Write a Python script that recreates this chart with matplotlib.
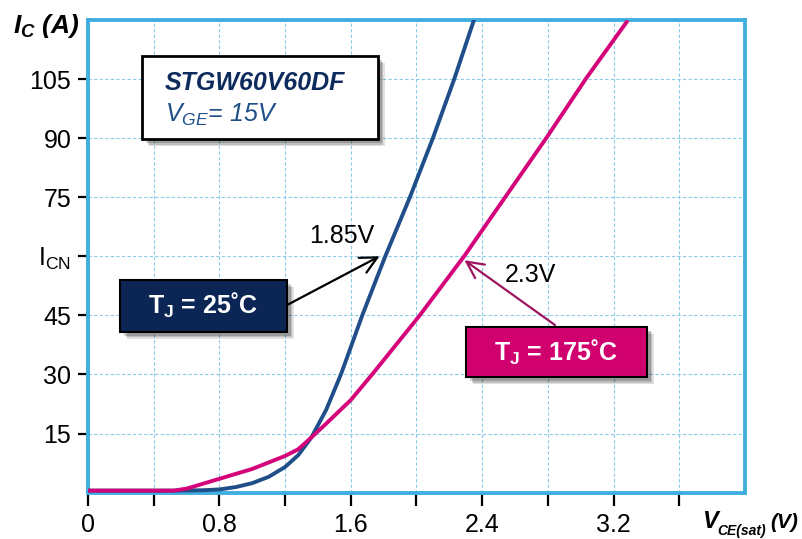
import numpy as np
import matplotlib
matplotlib.use('Agg')
import matplotlib.pyplot as plt
import matplotlib.patheffects as pe
from matplotlib.patches import Rectangle

plt.rcParams['font.family'] = 'Liberation Sans'
plt.rcParams['mathtext.fontset'] = 'custom'
plt.rcParams['mathtext.rm'] = 'Liberation Sans'
plt.rcParams['mathtext.it'] = 'Liberation Sans:italic'
plt.rcParams['mathtext.bf'] = 'Liberation Sans:italic:bold'
plt.rcParams['mathtext.sf'] = 'Liberation Sans:bold'

# curves
v25 = [0, 0.55, 0.7, 0.8, 0.9, 1.0, 1.1, 1.2, 1.28, 1.36, 1.45, 1.54, 1.67, 1.81, 1.96, 2.10, 2.23, 2.35]
i25 = [0.5, 0.5, 0.6, 0.8, 1.4, 2.4, 4.0, 6.5, 9.5, 14, 21, 30, 45, 60, 75, 90, 105, 120]

v175 = [0, 0.52, 0.6, 0.8, 1.0, 1.2, 1.28, 1.36, 1.45, 1.6, 1.73, 2.02, 2.29, 2.54, 2.79, 3.03, 3.28]
i175 = [0.5, 0.5, 1.0, 3.5, 6.0, 9.3, 11, 14, 17.5, 23.5, 30, 45, 60, 75, 90, 105, 119.5]

x_ticks = [0, 0.4, 0.8, 1.2, 1.6, 2.0, 2.4, 2.8, 3.2, 3.6]
x_labels = ['0', '', '0.8', '', '1.6', '', '2.4', '', '3.2', '']
y_ticks = [15, 30, 45, 60, 75, 90, 105]
y_labels = ['15', '30', '45', r'I$_{\mathrm{CN}}$', '75', '90', '105']
icn = 60

blue = '#1F4E89'
magenta = '#D4037A'
spine_col = '#41AEE0'

fig = plt.figure(figsize=(8.02, 5.39), dpi=100)
ax = fig.add_axes([0.1097, 0.0861, 0.8192, 0.8769])
ax.set_xlim(0, 4.0)
ax.set_ylim(0, 120)

ax.plot(v25, i25, color=blue, lw=2.8, solid_joinstyle='round', zorder=3)
ax.plot(v175, i175, color=magenta, lw=2.8, solid_joinstyle='round', zorder=3)

ax.set_xticks(x_ticks)
ax.set_xticklabels(x_labels)
ax.set_yticks(y_ticks)
ax.set_yticklabels(y_labels)
ax.tick_params(axis='x', direction='out', length=9, width=1.6, pad=6, labelsize=18, color='black')
ax.tick_params(axis='y', direction='out', length=7, width=1.6, pad=5, labelsize=18, color='black')
ax.grid(True, color='#8CCBE8', lw=0.8, linestyle=(0, (3, 2)))
for s in ax.spines.values():
    s.set_color(spine_col)
    s.set_linewidth(2.8)

shadow = [pe.SimplePatchShadow(offset=(5, -5), shadow_rgbFace='#000000', alpha=0.12),
          pe.SimplePatchShadow(offset=(4, -4), shadow_rgbFace='#000000', alpha=0.15),
          pe.SimplePatchShadow(offset=(3, -3), shadow_rgbFace='#000000', alpha=0.18),
          pe.Normal()]

# part number box
r1 = Rectangle((0.0822, 0.748), 0.359, 0.1756, transform=ax.transAxes, facecolor='white',
               edgecolor='black', lw=2, zorder=5)
r1.set_path_effects(shadow)
ax.add_patch(r1)
ax.text(0.117, 0.8667, 'STGW60V60DF', transform=ax.transAxes, fontsize=18, fontweight='bold',
        fontstyle='italic', color='#0D2B5C', va='center', ha='left', zorder=6)
ax.text(0.117, 0.800, r'$\mathit{V_{GE}}$= 15V', transform=ax.transAxes, fontsize=18,
        fontstyle='italic', color=blue, va='center', ha='left', zorder=6)

# temperature boxes
r2 = Rectangle((0.0487, 0.3405), 0.2537, 0.1094, transform=ax.transAxes, facecolor='#0B2555',
               edgecolor='black', lw=1.5, zorder=5)
r2.set_path_effects(shadow)
ax.add_patch(r2)
ax.text(0.175, 0.395, r'$\mathsf{T_J}$ = 25˚C', transform=ax.transAxes, fontsize=18,
        fontweight='bold', color='white', va='center', ha='center', zorder=6)

r3 = Rectangle((0.5753, 0.244), 0.275, 0.107, transform=ax.transAxes, facecolor='#D1006F',
               edgecolor='black', lw=1.5, zorder=5)
r3.set_path_effects(shadow)
ax.add_patch(r3)
ax.text(0.7123, 0.2975, r'$\mathsf{T_J}$ = 175˚C', transform=ax.transAxes, fontsize=18,
        fontweight='bold', color='white', va='center', ha='center', zorder=6)

# arrows to the curves at I_CN
tip25 = np.interp(icn, i25, v25) - 0.035
ax.annotate('', xy=(tip25, icn), xytext=(0.3032, 0.397), textcoords='axes fraction',
            arrowprops=dict(arrowstyle='->,head_length=0.6,head_width=0.3', color='black',
                            lw=1.6, mutation_scale=20, shrinkA=0, shrinkB=0), zorder=4)
ax.text(0.3866, 0.5429, '1.85V', transform=ax.transAxes, fontsize=18, ha='center', va='center')

tip175 = np.interp(icn - 1, i175, v175) + 0.02
ax.annotate('', xy=(tip175, icn - 1), xytext=(0.7108, 0.3545), textcoords='axes fraction',
            arrowprops=dict(arrowstyle='->,head_length=0.6,head_width=0.3', color='#9E1460',
                            lw=1.6, mutation_scale=20, shrinkA=0, shrinkB=0), zorder=4)
ax.text(0.674, 0.4604, '2.3V', transform=ax.transAxes, fontsize=18, ha='center', va='center')

# axis titles
fig.text(0.016, 0.939, r'$\mathbf{I_C}$ (A)', fontsize=19, fontweight='bold', fontstyle='italic',
         ha='left', va='baseline')
bi = dict(fontweight='bold', fontstyle='italic', ha='left', va='baseline')
fig.text(0.875, 0.0204, 'V', fontsize=17, **bi)
fig.text(0.894, 0.0074, 'CE(sat)', fontsize=10, **bi)
fig.text(0.961, 0.0204, '(V)', fontsize=15, **bi)

fig.savefig('out.png', dpi=100)
